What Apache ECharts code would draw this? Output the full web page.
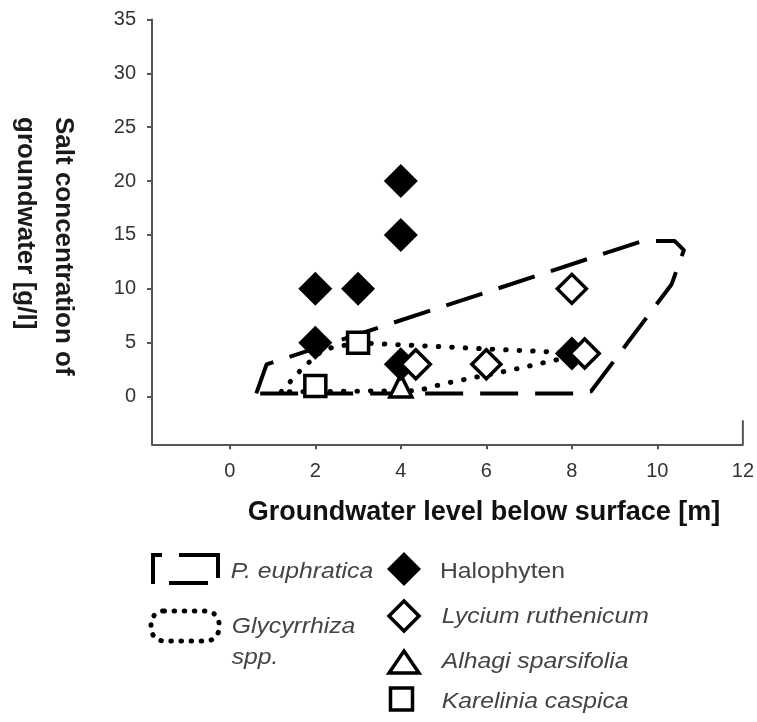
<!DOCTYPE html>
<html>
<head>
<meta charset="utf-8">
<script src="https://cdn.jsdelivr.net/npm/echarts@6/dist/echarts.min.js"></script>
<style>
html,body{margin:0;padding:0;background:#fff;}
#chart{width:757px;height:722px;}
</style>
</head>
<body>
<div id="chart"></div>
<script>
// ---- data ----
const xTicks = [0, 2, 4, 6, 8, 10, 12];
const yTicks = [0, 5, 10, 15, 20, 25, 30, 35];
const halophyten = [[2, 10], [3, 10], [4, 20], [4, 15], [2, 5], [4, 3], [8, 4]];
const lycium = [[4.35, 3], [6, 3], [8, 10], [8.3, 4]];
const alhagi = [[4, 1]];
const karelinia = [[3, 5], [2, 1]];
const euphraticaOutline = [[0.62, 0.3], [0.86, 3.0], [9.66, 14.45], [10.4, 14.45], [10.62, 13.6], [10.33, 10.4], [8.45, 0.5], [8.15, 0.3], [0.62, 0.3]];
const glycyrrhizaOutline = [[1.2, 0.45], [1.7, 2.65], [2.2, 4.4], [3, 5], [8.3, 4.0], [6.5, 2.4], [5.0, 1.2], [4.4, 0.55], [1.2, 0.45]];
const rightEdgeMark = [[12, -4.42], [12, -2.2]];

const FONT = '"Liberation Sans", Arial, sans-serif';
const chart = echarts.init(document.getElementById('chart'), null, {renderer: 'canvas'});

const legendTextStyle = (t, x, y, italic) => ({
  type: 'text', x: x, y: y, scaleX: 1.15, originX: 0, originY: 0,
  style: {text: t, fill: '#444', font: (italic ? 'italic ' : '') + '21.5px ' + FONT, textAlign: 'left', textVerticalAlign: 'middle'}
});

const option = {
  animation: false,
  backgroundColor: '#fff',
  grid: {left: 152, right: 13, top: 19.4, bottom: 277.7, containLabel: false},
  xAxis: {
    type: 'value', min: -1.82, max: 12,
    axisLine: {onZero: false, lineStyle: {color: '#555', width: 2}},
    axisTick: {show: true, length: 5, customValues: xTicks.slice(0, 6), lineStyle: {color: '#555', width: 2}},
    axisLabel: {customValues: xTicks, margin: 17, color: '#333', fontSize: 20, fontFamily: FONT},
    splitLine: {show: false}
  },
  yAxis: {
    type: 'value', min: -4.42, max: 35,
    axisLine: {onZero: false, lineStyle: {color: '#555', width: 2}},
    axisTick: {show: true, length: 5, customValues: yTicks, lineStyle: {color: '#555', width: 2}},
    axisLabel: {customValues: yTicks, margin: 16, color: '#333', fontSize: 20, fontFamily: FONT},
    splitLine: {show: false}
  },
  series: [
    {
      name: 'P. euphratica', type: 'line', data: euphraticaOutline, symbol: 'none', silent: true, z: 1,
      lineStyle: {color: '#000', width: 4, type: [38, 17], cap: 'butt', join: 'round', opacity: 1}
    },
    {
      name: 'Glycyrrhiza spp.', type: 'line', data: glycyrrhizaOutline, symbol: 'none', silent: true, z: 1,
      lineStyle: {color: '#000', width: 5, type: [0.5, 13], cap: 'round', join: 'round', opacity: 1}
    },
    {
      type: 'line', data: rightEdgeMark, symbol: 'none', silent: true, z: 1,
      lineStyle: {color: '#555', width: 2}
    },
    {
      name: 'Alhagi sparsifolia', type: 'scatter', data: alhagi, symbol: 'triangle', symbolSize: 22, z: 2,
      itemStyle: {color: '#fff', borderColor: '#000', borderWidth: 3.5, opacity: 1}
    },
    {
      name: 'Halophyten', type: 'scatter', data: halophyten, symbol: 'diamond', symbolSize: 34, z: 3,
      itemStyle: {color: '#000', borderColor: '#000', borderWidth: 0, opacity: 1}
    },
    {
      name: 'Lycium ruthenicum', type: 'scatter', data: lycium, symbol: 'diamond', symbolSize: 29, z: 4,
      itemStyle: {color: '#fff', borderColor: '#000', borderWidth: 3.5, opacity: 1}
    },
    {
      name: 'Karelinia caspica', type: 'scatter', data: karelinia, symbol: 'rect', symbolSize: 21, z: 4,
      itemStyle: {color: '#fff', borderColor: '#000', borderWidth: 3.5, opacity: 1}
    }
  ],
  graphic: [
    // axis titles
    {type: 'text', x: 484, y: 512.5, style: {text: 'Groundwater level below surface [m]', fill: '#111', font: 'bold 27px ' + FONT, textAlign: 'center', textVerticalAlign: 'middle'}},
    {type: 'text', x: 63.3, y: 117, rotation: -Math.PI / 2, style: {text: 'Salt concentration of', fill: '#1a1a1a', font: 'bold 26px ' + FONT, textAlign: 'left', textVerticalAlign: 'middle'}},
    {type: 'text', x: 25, y: 117, rotation: -Math.PI / 2, style: {text: 'groundwater [g/l]', fill: '#1a1a1a', font: 'bold 26px ' + FONT, textAlign: 'left', textVerticalAlign: 'middle'}},
    // legend: P. euphratica icon
    {type: 'polyline', shape: {points: [[162, 555], [153, 555], [153, 584]]}, style: {stroke: '#000', lineWidth: 4, fill: null}},
    {type: 'polyline', shape: {points: [[179, 555], [218, 555], [218, 578]]}, style: {stroke: '#000', lineWidth: 4, fill: null}},
    {type: 'line', shape: {x1: 169, y1: 583, x2: 208, y2: 583}, style: {stroke: '#000', lineWidth: 4}},
    legendTextStyle('P. euphratica', 230.7, 571.7, true),
    // legend: Glycyrrhiza icon
    {type: 'rect', shape: {x: 151, y: 611, width: 68, height: 30, r: 13}, style: {stroke: '#000', lineWidth: 5, fill: null, lineDash: [0.5, 9.6], lineCap: 'round'}},
    legendTextStyle('Glycyrrhiza', 231.7, 626.7, true),
    legendTextStyle('spp.', 231.7, 658, true),
    // legend: markers
    {type: 'polygon', shape: {points: [[404, 552], [421, 569], [404, 586], [387, 569]]}, style: {fill: '#000'}},
    {type: 'polygon', shape: {points: [[404, 601], [419, 616], [404, 631], [389, 616]]}, style: {fill: '#fff', stroke: '#000', lineWidth: 3.5}},
    {type: 'polygon', shape: {points: [[404, 651], [419, 673], [389, 673]]}, style: {fill: '#fff', stroke: '#000', lineWidth: 3.5}},
    {type: 'rect', shape: {x: 390.5, y: 688, width: 22, height: 22}, style: {fill: '#fff', stroke: '#000', lineWidth: 3.5}},
    legendTextStyle('Halophyten', 440, 571.7, false),
    legendTextStyle('Lycium ruthenicum', 441.7, 616.7, true),
    legendTextStyle('Alhagi sparsifolia', 441.7, 661.7, true),
    legendTextStyle('Karelinia caspica', 441.7, 701.7, true)
  ]
};
chart.setOption(option);
</script>
</body>
</html>
